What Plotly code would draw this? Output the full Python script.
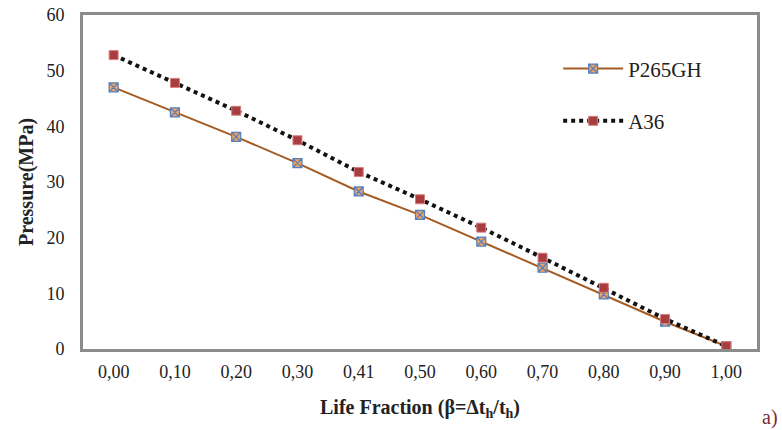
import plotly.graph_objects as go

categories = ["0,00", "0,10", "0,20", "0,30", "0,41", "0,50", "0,60", "0,70", "0,80", "0,90", "1,00"]
p265gh = [47.0, 42.5, 38.1, 33.4, 28.3, 24.1, 19.3, 14.6, 9.8, 4.9, 0.5]
a36 = [52.8, 47.8, 42.8, 37.5, 31.8, 26.9, 21.8, 16.4, 11.0, 5.4, 0.5]

FONT = "Liberation Serif"

fig = go.Figure()
fig.add_trace(go.Scatter(
    x=categories, y=p265gh, name="P265GH", mode="lines+markers",
    legendgroup="g1",
    line=dict(color="#a65b22", width=2),
    marker=dict(symbol="square-x", size=9, color="#f0a060",
                line=dict(color="#4f7fbf", width=1.2)),
))
fig.add_trace(go.Scatter(
    x=categories, y=a36, name="A36", mode="lines+markers",
    legendgroup="g2",
    line=dict(color="#111111", width=4, dash="dot"),
    marker=dict(symbol="square", size=9, color="#a83c3e",
                line=dict(color="#d88080", width=1)),
))

fig.update_layout(
    width=782, height=430,
    margin=dict(l=83, r=25, t=15, b=81, autoexpand=False),
    plot_bgcolor="white", paper_bgcolor="white",
    font=dict(family=FONT, size=18, color="#222222"),
    showlegend=True,
    legend=dict(x=0.705, y=0.90, xanchor="left", yanchor="top",
                bgcolor="rgba(0,0,0,0)", font=dict(size=21, family=FONT),
                traceorder="grouped", tracegroupgap=22, itemwidth=60),
    annotations=[dict(text="a)", x=1.0, y=-0.245, xref="paper", yref="paper",
                      xanchor="left", yanchor="bottom", showarrow=False,
                      xshift=3,
                      font=dict(size=20, color="#7a2e2e", family=FONT))],
)

fig.update_xaxes(
    type="category", range=[-0.5, len(categories) - 0.5],
    showgrid=False, zeroline=False, automargin=False,
    showline=True, mirror=True, linecolor="#8c8c8c", linewidth=3,
    ticks="outside", ticklen=4, tickcolor="rgba(0,0,0,0)",
    tickfont=dict(size=18, family=FONT),
    title=dict(text="<b>Life Fraction (β=Δt<sub>h</sub>/t<sub>h</sub>)</b>",
               font=dict(size=20, family=FONT), standoff=20),
)
fig.update_yaxes(
    range=[0, 60], dtick=10, showgrid=False, zeroline=False, automargin=False,
    showline=True, mirror=True, linecolor="#8c8c8c", linewidth=3,
    ticks="outside", ticklen=12, tickcolor="rgba(0,0,0,0)",
    tickfont=dict(size=18, family=FONT),
    title=dict(text="<b>Pressure(MPa)</b>", font=dict(size=20, family=FONT), standoff=8),
)

fig.write_html("out.html", config={"displayModeBar": False},
               post_script="document.body.style.margin='0';")
